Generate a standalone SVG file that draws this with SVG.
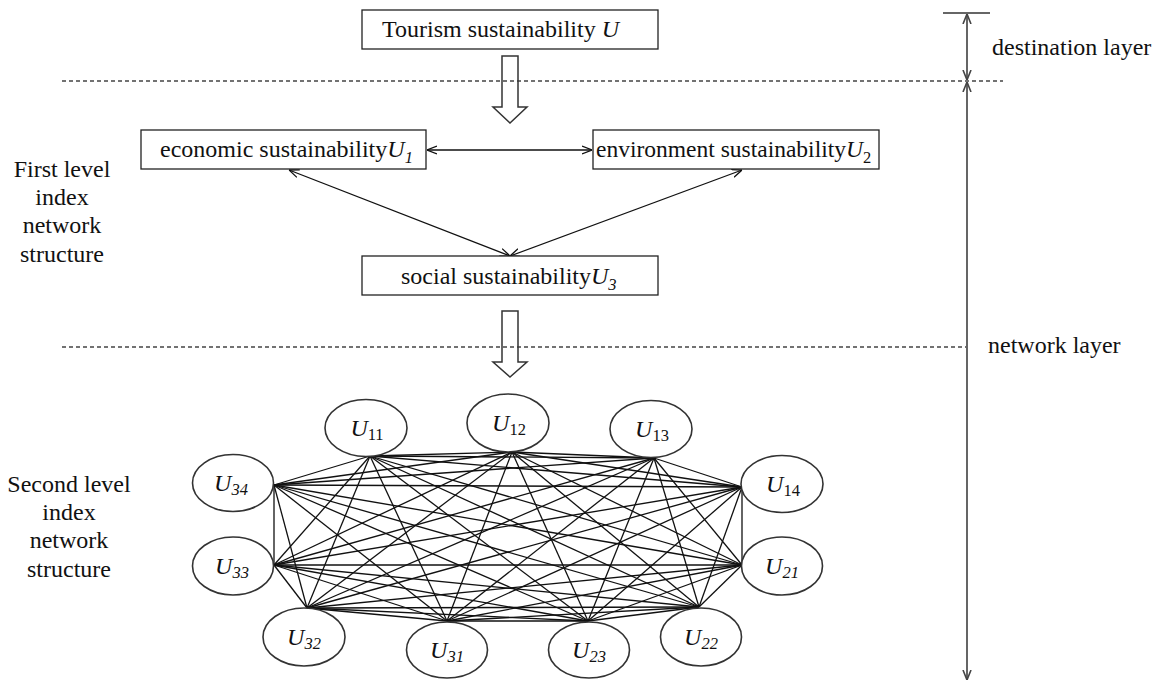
<svg xmlns="http://www.w3.org/2000/svg" width="1160" height="681" viewBox="0 0 1160 681">
<style>
text{font-family:"Liberation Serif","Times New Roman",serif;font-size:24px;fill:#111}
.it{font-style:italic}
.sub{font-size:16.5px}
.box{fill:#fff;stroke:#222;stroke-width:1.3}
.ell{fill:#fff;stroke:#333;stroke-width:1.6}
.dash{stroke:#444;stroke-width:1.3;stroke-dasharray:4 3;fill:none}
.hollow{fill:none;stroke:#333;stroke-width:1.5}
.arr{stroke:#111;stroke-width:1.3;fill:none;marker-start:url(#v);marker-end:url(#v)}
.scale{stroke:#555;stroke-width:1.8;fill:none;marker-start:url(#v2);marker-end:url(#v2)}
#net line{stroke:#111;stroke-width:1.3}
</style>
<defs>
<marker id="v" viewBox="0 0 10 10" refX="10" refY="5" markerWidth="10" markerHeight="10" markerUnits="userSpaceOnUse" orient="auto-start-reverse">
<path d="M0,1 L10,5 L0,9" fill="none" stroke="#111" stroke-width="1.3"/>
</marker>
<marker id="v2" viewBox="0 0 10 10" refX="10" refY="5" markerWidth="10" markerHeight="10" markerUnits="userSpaceOnUse" orient="auto-start-reverse">
<path d="M0,1 L10,5 L0,9" fill="none" stroke="#444" stroke-width="1.6"/>
</marker>
</defs>
<rect width="1160" height="681" fill="#fff"/>

<g id="layers">
<line class="dash" x1="62" y1="81" x2="1003" y2="81"/>
<line class="dash" x1="62" y1="347" x2="966" y2="347"/>
<line x1="943" y1="13" x2="990" y2="13" stroke="#666" stroke-width="1.8"/>
<line class="scale" x1="967" y1="14" x2="967" y2="80"/>
<line class="scale" x1="967" y1="82" x2="967" y2="680"/>
<text x="992" y="55">destination layer</text>
<text x="988" y="353">network layer</text>
</g>

<g id="side-labels" text-anchor="middle">
<text x="62" y="177">First level</text>
<text x="62" y="205">index</text>
<text x="62" y="233">network</text>
<text x="62" y="262">structure</text>
<text x="69" y="492">Second level</text>
<text x="69" y="520">index</text>
<text x="69" y="548">network</text>
<text x="69" y="577">structure</text>
</g>

<g id="connectors">
<polygon class="hollow" points="502,56 518,56 518,107 527,107 510,123 493,107 502,107"/>
<polygon class="hollow" points="502,311 518,311 518,362 527,362 510,377 493,362 502,362"/>
<line class="arr" x1="427" y1="150" x2="592" y2="150"/>
<line class="arr" x1="289" y1="170" x2="510" y2="256"/>
<line class="arr" x1="742" y1="170" x2="510" y2="256"/>
</g>

<g id="node-U">
<rect class="box" x="362" y="10" width="296" height="39"/>
<text x="382" y="37">Tourism sustainability <tspan class="it">U</tspan></text>
</g>
<g id="node-U1">
<rect class="box" x="141" y="130" width="285" height="39"/>
<text x="160" y="157">economic sustainability<tspan class="it">U</tspan><tspan class="it sub" dy="6">1</tspan></text>
</g>
<g id="node-U2">
<rect class="box" x="593" y="130" width="286" height="39"/>
<text x="596" y="157" style="font-size:23.5px">environment sustainability<tspan class="it">U</tspan><tspan class="sub" dy="6">2</tspan></text>
</g>
<g id="node-U3">
<rect class="box" x="362" y="256" width="296" height="39"/>
<text x="401" y="284">social sustainability<tspan class="it">U</tspan><tspan class="it sub" dy="6">3</tspan></text>
</g>

<g id="net">
<line x1="370" y1="456" x2="512" y2="452"/>
<line x1="370" y1="456" x2="654" y2="458"/>
<line x1="370" y1="456" x2="742" y2="487"/>
<line x1="370" y1="456" x2="742" y2="565"/>
<line x1="370" y1="456" x2="699" y2="607"/>
<line x1="370" y1="456" x2="588" y2="621"/>
<line x1="370" y1="456" x2="447" y2="621"/>
<line x1="370" y1="456" x2="307" y2="608"/>
<line x1="370" y1="456" x2="274" y2="565"/>
<line x1="370" y1="456" x2="274" y2="485"/>
<line x1="512" y1="452" x2="654" y2="458"/>
<line x1="512" y1="452" x2="742" y2="487"/>
<line x1="512" y1="452" x2="742" y2="565"/>
<line x1="512" y1="452" x2="699" y2="607"/>
<line x1="512" y1="452" x2="588" y2="621"/>
<line x1="512" y1="452" x2="447" y2="621"/>
<line x1="512" y1="452" x2="307" y2="608"/>
<line x1="512" y1="452" x2="274" y2="565"/>
<line x1="512" y1="452" x2="274" y2="485"/>
<line x1="654" y1="458" x2="742" y2="487"/>
<line x1="654" y1="458" x2="742" y2="565"/>
<line x1="654" y1="458" x2="699" y2="607"/>
<line x1="654" y1="458" x2="588" y2="621"/>
<line x1="654" y1="458" x2="447" y2="621"/>
<line x1="654" y1="458" x2="307" y2="608"/>
<line x1="654" y1="458" x2="274" y2="565"/>
<line x1="654" y1="458" x2="274" y2="485"/>
<line x1="742" y1="487" x2="742" y2="565"/>
<line x1="742" y1="487" x2="699" y2="607"/>
<line x1="742" y1="487" x2="588" y2="621"/>
<line x1="742" y1="487" x2="447" y2="621"/>
<line x1="742" y1="487" x2="307" y2="608"/>
<line x1="742" y1="487" x2="274" y2="565"/>
<line x1="742" y1="487" x2="274" y2="485"/>
<line x1="742" y1="565" x2="699" y2="607"/>
<line x1="742" y1="565" x2="588" y2="621"/>
<line x1="742" y1="565" x2="447" y2="621"/>
<line x1="742" y1="565" x2="307" y2="608"/>
<line x1="742" y1="565" x2="274" y2="565"/>
<line x1="742" y1="565" x2="274" y2="485"/>
<line x1="699" y1="607" x2="588" y2="621"/>
<line x1="699" y1="607" x2="447" y2="621"/>
<line x1="699" y1="607" x2="307" y2="608"/>
<line x1="699" y1="607" x2="274" y2="565"/>
<line x1="699" y1="607" x2="274" y2="485"/>
<line x1="588" y1="621" x2="447" y2="621"/>
<line x1="588" y1="621" x2="307" y2="608"/>
<line x1="588" y1="621" x2="274" y2="565"/>
<line x1="588" y1="621" x2="274" y2="485"/>
<line x1="447" y1="621" x2="307" y2="608"/>
<line x1="447" y1="621" x2="274" y2="565"/>
<line x1="447" y1="621" x2="274" y2="485"/>
<line x1="307" y1="608" x2="274" y2="565"/>
<line x1="307" y1="608" x2="274" y2="485"/>
<line x1="274" y1="565" x2="274" y2="485"/>
</g>

<g id="node-U11"><ellipse class="ell" cx="366" cy="428" rx="41" ry="28.5"/><text x="367" y="436" text-anchor="middle"><tspan class="it">U</tspan><tspan class="sub" dy="4">11</tspan></text></g>
<g id="node-U12"><ellipse class="ell" cx="508" cy="423" rx="41" ry="29"/><text x="509" y="431" text-anchor="middle"><tspan class="it">U</tspan><tspan class="sub" dy="4">12</tspan></text></g>
<g id="node-U13"><ellipse class="ell" cx="651" cy="429" rx="41" ry="28.5"/><text x="652" y="437" text-anchor="middle"><tspan class="it">U</tspan><tspan class="sub" dy="4">13</tspan></text></g>
<g id="node-U14"><ellipse class="ell" cx="782" cy="484" rx="41" ry="28.5"/><text x="783" y="492" text-anchor="middle"><tspan class="it">U</tspan><tspan class="sub" dy="4">14</tspan></text></g>
<g id="node-U21"><ellipse class="ell" cx="782" cy="566" rx="40.5" ry="29"/><text x="782" y="574" text-anchor="middle"><tspan class="it">U</tspan><tspan class="it sub" dy="4">21</tspan></text></g>
<g id="node-U22"><ellipse class="ell" cx="701" cy="637" rx="40.5" ry="29"/><text x="701" y="645" text-anchor="middle"><tspan class="it">U</tspan><tspan class="it sub" dy="4">22</tspan></text></g>
<g id="node-U23"><ellipse class="ell" cx="589" cy="650" rx="40.5" ry="28"/><text x="589" y="658" text-anchor="middle"><tspan class="it">U</tspan><tspan class="it sub" dy="4">23</tspan></text></g>
<g id="node-U31"><ellipse class="ell" cx="447" cy="650" rx="40.5" ry="28"/><text x="447" y="658" text-anchor="middle"><tspan class="it">U</tspan><tspan class="it sub" dy="4">31</tspan></text></g>
<g id="node-U32"><ellipse class="ell" cx="304" cy="637" rx="41" ry="29"/><text x="304" y="645" text-anchor="middle"><tspan class="it">U</tspan><tspan class="it sub" dy="4">32</tspan></text></g>
<g id="node-U33"><ellipse class="ell" cx="233" cy="566" rx="40.5" ry="29"/><text x="232" y="574" text-anchor="middle"><tspan class="it">U</tspan><tspan class="it sub" dy="4">33</tspan></text></g>
<g id="node-U34"><ellipse class="ell" cx="233" cy="483" rx="40.5" ry="28.5"/><text x="231" y="491" text-anchor="middle"><tspan class="it">U</tspan><tspan class="it sub" dy="4">34</tspan></text></g>
</svg>
